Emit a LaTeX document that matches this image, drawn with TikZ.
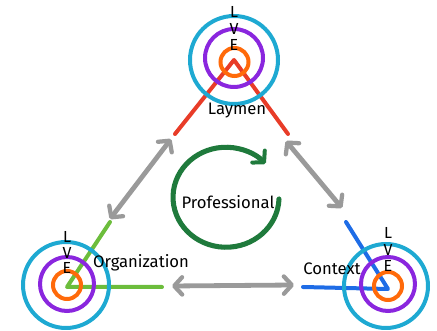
\documentclass[tikz,border=0pt]{standalone}
\usepackage{fontspec}
\setmainfont{Fira Sans}
\usetikzlibrary{arrows.meta}
\definecolor{ringcyan}{HTML}{1EA9D2}
\definecolor{ringpurple}{HTML}{8A26DE}
\definecolor{ringorange}{HTML}{FF6A0A}
\definecolor{laymenred}{HTML}{E83C28}
\definecolor{orggreen}{HTML}{6CBD3C}
\definecolor{ctxblue}{HTML}{1E6CE6}
\definecolor{profgreen}{HTML}{1F7A3C}
\definecolor{linkgray}{HTML}{9A9A9A}
\tikzset{
  ring/.style={line width=3pt},
  wedge/.style={line width=3pt, line cap=round, line join=round},
  link/.style={draw=linkgray, line width=3.6pt, line cap=round,
    {Straight Barb[length=6pt,width=13pt,line width=3.2pt,round]}-{Straight Barb[length=6pt,width=13pt,line width=3.2pt,round]}},
  letter/.style={font=\fontsize{12}{12}\selectfont, inner sep=0pt},
  label/.style={font=\fontsize{12.5}{12.5}\selectfont, inner sep=0pt},
}
\begin{document}
\begin{tikzpicture}[x=0.75pt,y=-0.75pt]
\useasboundingbox (0,0) rectangle (437,331);

% ---- Laymen (top) ----
\coordinate (lay) at (234,60);
\draw[wedge, laymenred] (175,134) -- (lay) -- (288,134);
\draw[ring, ringorange] (234.5,62) circle (14);
\draw[ring, ringpurple] (234,58) circle (29);
\draw[ring, ringcyan] (234,60) circle (44);
\node[letter] (layL) at (234,12) {L};
\node[letter] (layV) at (234,29) {V};
\node[letter] (layE) at (234,45) {E};
\node[label] (laymen) at (237,111) {Laymen};

% ---- Organization (bottom left) ----
\coordinate (org) at (67,287);
\draw[wedge, orggreen] (110,222) -- (org) -- (162,287);
\draw[ring, ringorange] (67,285) circle (14);
\draw[ring, ringpurple] (67,284) circle (27);
\draw[ring, ringcyan] (66,285) circle (43);
\node[letter] (orgL) at (67,237) {L};
\node[letter] (orgV) at (67,253) {V};
\node[letter] (orgE) at (67,268) {E};
\node[label] (organization) at (141,263) {Organization};

% ---- Context (bottom right) ----
\coordinate (ctx) at (388,289);
\draw[wedge, ctxblue] (346,222) -- (ctx) -- (303,287);
\draw[ring, ringorange] (388,286) circle (14);
\draw[ring, ringpurple] (388,284) circle (27);
\draw[ring, ringcyan] (386,286) circle (42);
\node[letter] (ctxL) at (388,233) {L};
\node[letter] (ctxV) at (388,250) {V};
\node[letter] (ctxE) at (388,266) {E};
\node[label] (context) at (332,269) {Context};

% ---- Professional cycle ----
\node[label] (prof) at (228,202) {Professional};
\draw[profgreen, line width=3.8pt, line cap=round,
  -{Straight Barb[length=6pt,width=13pt,line width=3pt,round]}]
  (279,199) arc[start angle=2, end angle=318, x radius=53, y radius=50];

% ---- links between the three ----
\coordinate (a1) at (171,139);
\coordinate (a2) at (110,219);
\coordinate (b1) at (286,141);
\coordinate (b2) at (342,208);
\coordinate (c1) at (172,286);
\coordinate (c2) at (294,285);
\draw[link] (a1) -- (a2);
\draw[link] (b1) -- (b2);
\draw[link] (c1) -- (c2);
\end{tikzpicture}
\end{document}
